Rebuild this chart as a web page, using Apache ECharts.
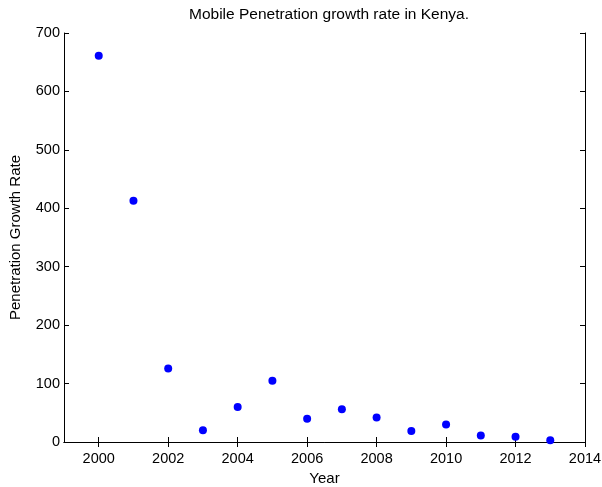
<!DOCTYPE html>
<html><head><meta charset="utf-8">
<script src="https://cdn.jsdelivr.net/npm/echarts@6/dist/echarts.min.js"></script>
<style>html,body{margin:0;padding:0;background:#fff}#c{width:602px;height:487px}</style>
</head><body><div id="c"></div>
<script>
var years = [2000,2001,2002,2003,2004,2005,2006,2007,2008,2009,2010,2011,2012,2013];
var growthRate = [661,413,126,20,60,105,40,56,42,19,30,11,9,3];
var xTicks = [2000,2002,2004,2006,2008,2010,2012,2014];
var yTicks = [0,100,200,300,400,500,600,700];

var chart = echarts.init(document.getElementById('c'));
var font = 'Liberation Sans, Arial, sans-serif';
var axLine = {show:true, lineStyle:{color:'#000', width:1}};
var tickIn = {show:true, inside:true, length:5, lineStyle:{color:'#000', width:1}};
chart.setOption({
  animation:false,
  title:{text:'Mobile Penetration growth rate in Kenya.', left:324, top:2, textAlign:'center',
    textStyle:{fontFamily:font, fontSize:15.5, fontWeight:'normal', color:'#000'}},
  grid:{left:64, right:17, top:33, bottom:45, outerBoundsMode:'none', containLabel:false},
  xAxis:[{
    type:'value', min:1999, max:2014, position:'bottom',
    name:'Year', nameLocation:'middle', nameGap:25,
    nameTextStyle:{fontFamily:font, fontSize:15, color:'#000', verticalAlign:'top'},
    axisLine:axLine, axisTick:Object.assign({customValues:xTicks}, tickIn),
    axisLabel:{customValues:xTicks, formatter:function(v){return String(v);},
      fontFamily:font, fontSize:14.5, color:'#000', margin:9},
    splitLine:{show:false}
  },{
    type:'value', min:1999, max:2014, position:'top',
    axisLine:axLine, axisTick:Object.assign({customValues:xTicks}, tickIn),
    axisLabel:{show:false}, splitLine:{show:false}
  }],
  yAxis:[{
    type:'value', min:0, max:700, interval:100, position:'left',
    name:'Penetration Growth Rate', nameLocation:'middle', nameGap:41,
    nameTextStyle:{fontFamily:font, fontSize:15, color:'#000'},
    axisLine:axLine, axisTick:tickIn,
    axisLabel:{formatter:function(v){return String(v);}, fontFamily:font, fontSize:14.5, color:'#000', margin:4},
    splitLine:{show:false}
  },{
    type:'value', min:0, max:700, interval:100, position:'right',
    axisLine:axLine, axisTick:tickIn, axisLabel:{show:false}, splitLine:{show:false}
  }],
  series:[{
    type:'scatter', symbol:'circle', symbolSize:8,
    itemStyle:{color:'#0000ff', opacity:1},
    data: years.map(function(y,i){return [y, growthRate[i]];})
  }]
});
</script></body></html>
